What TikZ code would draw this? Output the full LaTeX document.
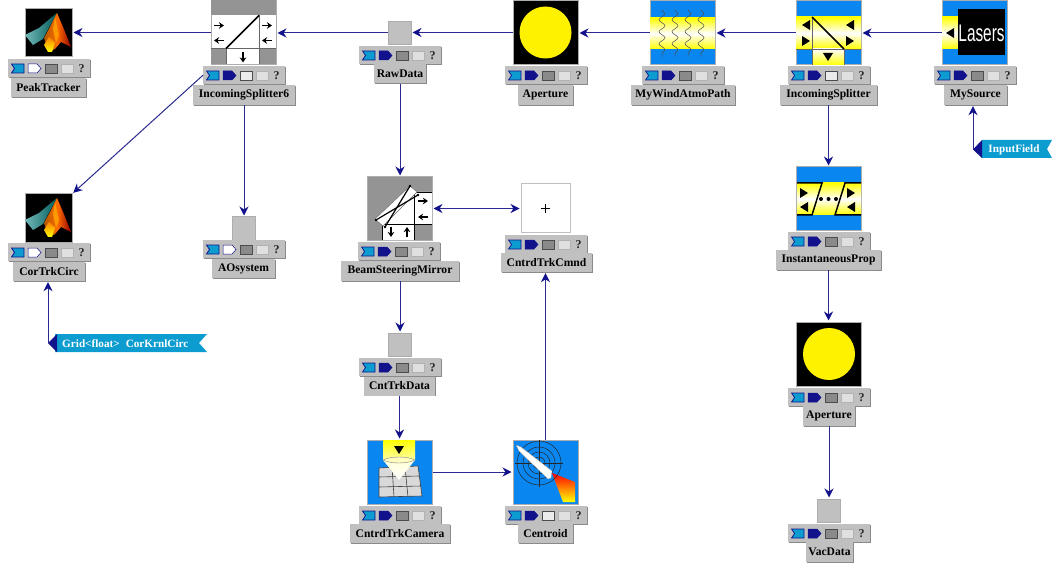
\documentclass[tikz,border=0pt]{standalone}
\usepackage{fontspec}
\setmainfont{Liberation Serif}
\newfontfamily\lblfont{Liberation Serif}
\newfontfamily\lasersfont{Liberation Sans}
\usetikzlibrary{arrows.meta,decorations.pathmorphing,calc}
\definecolor{navyc}{HTML}{12128C}
\definecolor{linec}{HTML}{2A2A90}
\definecolor{cyanc}{HTML}{0C9CD0}
\definecolor{bluec}{HTML}{0A86F0}
\definecolor{panel}{HTML}{C0C0C0}
\definecolor{edgec}{HTML}{8A8A8A}
\definecolor{hatchc}{HTML}{949494}
\tikzset{
  conn/.style={draw=linec,line width=1pt,-{Stealth[length=9pt,width=9pt,color=navyc]},shorten >=1pt},
  connboth/.style={draw=linec,line width=1pt,{Stealth[length=9pt,width=9pt,color=navyc]}-{Stealth[length=9pt,width=9pt,color=navyc]},shorten >=1pt,shorten <=1pt},
  lblbox/.style={fill=panel,preaction={fill=edgec,transform canvas={shift={(0.9pt,-0.9pt)}}},inner sep=0pt,minimum height=19pt,
    font=\lblfont\bfseries\fontsize{11.6}{13}\selectfont,text=black},
  barbox/.style={fill=panel,preaction={fill=edgec,transform canvas={shift={(0.9pt,-0.9pt)}}},inner sep=0pt,minimum width=82pt,minimum height=18pt},
  iconbox/.style={draw=edgec!70,line width=1pt,inner sep=0pt},
  plainicon/.style={iconbox,fill=panel,minimum width=23pt,minimum height=23pt},
  bigicon/.style={iconbox,minimum width=65pt,minimum height=64pt},
  mlicon/.style={iconbox,fill=black,minimum width=47pt,minimum height=48pt},
  flagtext/.style={text=white,inner sep=0pt,font=\lblfont\bfseries\fontsize{11.2}{12}\selectfont},
}
% toolbar: #1 name, #2 left x, #3 top y, #4 output fill, #5 square fill
\newcommand{\tbar}[5]{%
  \node[barbox,anchor=north west] (#1) at (#2,#3) {};
  \begin{scope}[shift={(#2,#3)}]
    \draw[navyc,fill=cyanc,line width=0.7pt] (3.5,5) -- (16,5) -- (16,14) -- (3.5,14) -- (6.5,9.5) -- cycle;
    \draw[navyc,fill=#4,line width=0.5pt] (20,5) -- (29,5) -- (33,9.5) -- (29,14) -- (20,14) -- cycle;
    \draw[black!70,fill=#5,line width=0.7pt] (37,5) rectangle (49,14);
    \draw[black!30,fill=white!88!black,line width=0.5pt] (53,5) rectangle (65,14);
    \node[inner sep=0pt,font=\bfseries\fontsize{12}{12}\selectfont,text=black!85] (#1q) at (73.5,10) {?};
  \end{scope}}
\newcommand{\trl}[2]{\fill[black] (#1-4,#2) -- ++(8,-5) -- ++(0,10) -- cycle;}
\newcommand{\trr}[2]{\fill[black] (#1+4,#2) -- ++(-8,-5) -- ++(0,10) -- cycle;}
\newcommand{\trd}[2]{\fill[black] (#1,#2+4) -- ++(-5,-8) -- ++(10,0) -- cycle;}
\newcommand{\arrR}[2]{\draw[black,line width=1.5pt,-{Stealth[length=5pt,width=6.5pt]}] (#1-5,#2) -- (#1+5,#2);}
\newcommand{\arrL}[2]{\draw[black,line width=1.5pt,-{Stealth[length=5pt,width=6.5pt]}] (#1+5,#2) -- (#1-5,#2);}
\newcommand{\arrD}[2]{\draw[black,line width=1.5pt,-{Stealth[length=5pt,width=6.5pt]}] (#1,#2-5) -- (#1,#2+5);}
\newcommand{\arrU}[2]{\draw[black,line width=1.5pt,-{Stealth[length=5pt,width=6.5pt]}] (#1,#2+5) -- (#1,#2-5);}
\newcommand{\matlabart}[2]{%
  \begin{scope}[shift={(#1,#2)}]
    \shade[left color=teal!55!white,right color=teal!70!black] (0,26) -- (14,19) -- (27,8) -- (32,4) -- (20,26) -- (18,30) -- (8,36) -- cycle;
    \shade[left color=orange!70!black,right color=red!55!black,middle color=orange!85!red]
      (19,29) -- (25,18) -- (32,4) -- (38,18) -- (46,38) -- (36,33) -- (30,40) -- (24,43) -- cycle;
    \shade[top color=orange,bottom color=yellow] (19,36) -- (24,28) -- (30,34) -- (27,43) -- (23,43) -- cycle;
    \fill[orange!80!yellow] (30,8) -- (34,26) -- (31,34) -- (28,20) -- cycle;
  \end{scope}}
\newcommand{\apertureart}[2]{%
  \begin{scope}[shift={(#1,#2)}]
    \fill[yellow] (32.5,32) circle (26);
  \end{scope}}
\begin{document}
\begin{tikzpicture}[x=1pt,y=-1pt]
\useasboundingbox (0,0) rectangle (1052,564);
\fill[white] (0,0) rectangle (1052,564);

% ---------- PeakTracker
\node[mlicon] (peakicon) at (48.5,33) {};
\matlabart{25}{9}
\tbar{peakbar}{8}{59}{white}{edgec}
\node[lblbox,minimum width=75pt] (peak) at (48.5,87.5) {PeakTracker};

% ---------- IncomingSplitter6
\node[bigicon,fill=white] (isixicon) at (243.5,32.5) {};
\begin{scope}[shift={(211,0.5)}]
  \fill[hatchc] (0,0) rectangle (65,15);
  \fill[hatchc] (0,48) rectangle (15,64);
  \fill[hatchc] (48,48) rectangle (65,64);
  \draw[black!60,line width=0.8pt] (0,48) -- (65,48) (15,48) -- (15,64) (48,48) -- (48,64) (48,15) -- (48,48);
  \draw[black,line width=1.6pt] (15,48) -- (48,15);
  \arrR{8}{25}\arrL{8}{40}\arrR{56}{25}\arrL{56}{40}\arrD{32}{57}
\end{scope}
\tbar{isixbar}{203}{66}{navyc}{white!92!black}
\node[lblbox,minimum width=102pt,minimum height=20pt] (isix) at (244,95) {IncomingSplitter6};

% ---------- RawData
\node[plainicon] (rawicon) at (399.5,33) {};
\tbar{rawbar}{359}{46}{navyc}{edgec}
\node[lblbox,minimum width=52pt] (raw) at (400,74) {RawData};

% ---------- Aperture (top)
\node[bigicon,fill=black] (apicon) at (545.5,32.5) {};
\apertureart{513}{0.5}
\tbar{apbar}{505}{66}{navyc}{edgec}
\node[lblbox,minimum width=55pt,minimum height=20pt] (ap) at (545.5,95) {Aperture};

% ---------- MyWindAtmoPath
\node[bigicon,fill=bluec] (windicon) at (682.5,33) {};
\begin{scope}[shift={(650,1)}]
  \shade[top color=yellow,bottom color=yellow,middle color=white] (0,17) rectangle (65,48);
  \foreach \xx in {12,25,38,51}
    \draw[black!70,line width=0.5pt,decorate,decoration={snake,segment length=12pt,amplitude=3pt}] (\xx,9) -- (\xx,56);
\end{scope}
\tbar{windbar}{642}{66}{navyc}{edgec}
\node[lblbox,minimum width=104pt,minimum height=20pt] (wind) at (683,95) {MyWindAtmoPath};

% ---------- IncomingSplitter
\node[bigicon,fill=bluec] (isicon) at (828.5,33) {};
\begin{scope}[shift={(796,1)}]
  \shade[top color=yellow,bottom color=yellow,middle color=white] (0,16) rectangle (65,48);
  \shade[top color=white,bottom color=yellow] (16,48) rectangle (48,64);
  \draw[black!60,line width=0.7pt] (16,16) -- (16,48) (0,48) -- (65,48) (16,48) -- (16,64) (48,48) -- (48,64);
  \draw[black,line width=1.6pt] (16,16) -- (48,48);
  \trl{10}{24}\trr{10}{40}\trl{54}{24}\trr{54}{40}\trd{32}{56}
\end{scope}
\tbar{isbar}{788}{66}{navyc}{white!92!black}
\node[lblbox,minimum width=97pt,minimum height=20pt] (is) at (828.5,95) {IncomingSplitter};

% ---------- MySource
\node[bigicon,fill=bluec] (srcicon) at (975,33) {};
\begin{scope}[shift={(942,1)}]
  \shade[top color=yellow,bottom color=yellow,middle color=white] (0,16) rectangle (16,48);
  \fill[black] (16,8) rectangle (63,54);
  \trl{8}{32}
  \node[text=white,inner sep=0pt,font=\lasersfont\fontsize{24}{24}\selectfont,xscale=0.64] (lasers) at (39.5,32) {Lasers};
\end{scope}
\tbar{srcbar}{934}{66}{navyc}{edgec}
\node[lblbox,minimum width=63pt,minimum height=20pt] (src) at (975.5,95) {MySource};

% ---------- InputField flag
\fill[cyanc] (982,140) -- (1052,140) -- (1047,149) -- (1052,158) -- (982,158) -- cycle;
\fill[navyc] (973,149.5) -- (982,140) -- (982,158) -- cycle;
\coordinate (intip) at (973,149.5);
\node[flagtext] (inflag) at (1014,149.5) {InputField};

% ---------- CorTrkCirc
\node[mlicon] (coricon) at (48.5,218) {};
\matlabart{25}{194}
\tbar{corbar}{8}{243}{white}{edgec}
\node[lblbox,minimum width=72pt] (cor) at (49,271.5) {CorTrkCirc};

% ---------- Grid flag
\fill[cyanc] (55,334) -- (207,334) -- (199,343) -- (207,352) -- (55,352) -- cycle;
\fill[navyc] (48,343) -- (57,334) -- (57,352) -- cycle;
\coordinate (gridtip) at (48,343);
\node[flagtext,anchor=west] (gridflag) at (62,343.5) {Grid<float>\hspace{6pt}CorKrnlCirc};

% ---------- AOsystem
\node[plainicon] (aoicon) at (243.5,228.5) {};
\tbar{aobar}{203}{240}{white}{edgec}
\node[lblbox,minimum width=63pt] (ao) at (243.5,268.5) {AOsystem};

% ---------- BeamSteeringMirror
\node[bigicon,fill=hatchc,minimum height=63pt] (bsmicon) at (399.5,208.5) {};
\begin{scope}[shift={(367,177)}]
  \fill[white] (15,47) -- (47,15) -- (65,15) -- (65,47) -- (47,47) -- (47,63) -- (15,63) -- cycle;
  \draw[black,line width=0.7pt] (47,15) -- (65,15) (47,15) -- (47,47) (15,47) -- (65,47) (15,47) -- (15,63) (47,47) -- (47,63);
  \fill[white,draw=black!60,line width=0.4pt] (8,42) -- (43,9) -- (50,15) -- (16,49) -- cycle;
  \draw[black,line width=1.2pt] (9,43) -- (51,18);
  \draw[black,line width=1.2pt] (18,50) -- (43,9);
  \fill[black] (9,43) circle (1.4) (43,9) circle (1.4) (18,50) circle (1.4) (51,18) circle (1.4);
  \arrR{56}{24}\arrL{56}{40}\arrD{24}{55}\arrU{40}{55}
\end{scope}
\tbar{bsmbar}{358}{242}{navyc}{edgec}
\node[lblbox,minimum width=118pt,minimum height=20pt] (bsm) at (400,271) {BeamSteeringMirror};

% ---------- CntrdTrkCmnd
\node[iconbox,fill=white,draw=black!25,minimum width=49pt,minimum height=49pt] (cmdicon) at (545.5,208.5) {};
\draw[black,line width=0.5pt] (541,208.5) -- (550,208.5) (545.5,204) -- (545.5,213);
\tbar{cmdbar}{505}{235}{navyc}{edgec}
\node[lblbox,minimum width=91pt] (cmd) at (546.5,262.5) {CntrdTrkCmnd};

% ---------- CntTrkData
\node[plainicon] (ctdicon) at (399.5,344.5) {};
\tbar{ctdbar}{359}{358}{navyc}{edgec}
\node[lblbox,minimum width=71pt] (ctd) at (399.5,386) {CntTrkData};

% ---------- CntrdTrkCamera
\node[bigicon,fill=bluec] (camicon) at (399.5,472) {};
\begin{scope}[shift={(367,440)}]
  \fill[white!85!black,draw=black!75,line width=0.6pt] (12,28) -- (51,26) -- (55,56) -- (12,57) -- cycle;
  \draw[black!75,line width=0.6pt] (12,37) -- (52,36) (12,47) -- (54,46) (25,27) -- (27,57) (38,27) -- (41,57);
  \shade[top color=yellow,bottom color=yellow!35!white] (16,0) -- (48,0) -- (48,20) -- (16,20) -- cycle;
  \shade[top color=white!85!yellow,bottom color=white] (16,20) -- (48,20) -- (32,40) -- cycle;
  \draw[black!50,line width=0.4pt,fill=yellow!25!white] (16,20) .. controls (24,16) and (40,16) .. (48,20) .. controls (40,24) and (24,24) .. (16,20);
  \trd{32}{10}
\end{scope}
\tbar{cambar}{359}{506}{navyc}{edgec}
\node[lblbox,minimum width=100pt] (cam) at (400,533.5) {CntrdTrkCamera};

% ---------- Centroid
\node[bigicon,fill=bluec] (cenicon) at (545.5,472) {};
\begin{scope}[shift={(513,440)}]
  \shade[left color=red,right color=yellow,shading angle=0] (39,33) -- (62,42) -- (62,62) -- (50,62) -- cycle;
  \draw[black!85,line width=0.5pt] (26,0) -- (26,47) (2,23) -- (50,23);
  \foreach \rr in {6,11,16,22}
    \draw[black!85,line width=0.5pt] (26,23) circle (\rr);
  \fill[white,draw=black!40,line width=0.3pt] (3,5) -- (8,7) -- (39,31) -- (38,38) -- (35,39) -- (6,11) -- cycle;
\end{scope}
\tbar{cenbar}{505}{506}{navyc}{white!92!black}
\node[lblbox,minimum width=55pt] (cen) at (545.5,533.5) {Centroid};

% ---------- InstantaneousProp
\node[bigicon,fill=bluec] (ipicon) at (829,199) {};
\begin{scope}[shift={(797,167)}]
  \shade[top color=yellow,bottom color=yellow,middle color=white] (0,16) rectangle (64,48);
  \draw[black,line width=1.5pt] (0,16) -- (25,16) -- (15,48) -- (0,48) (64,16) -- (48,16) -- (38,48) -- (64,48);
  \trr{7}{26}\trl{7}{40}\trr{54}{26}\trl{54}{40}
  \fill[black] (24,32) circle (2) (31.5,32) circle (2) (39,32) circle (2);
\end{scope}
\tbar{ipbar}{788}{232}{navyc}{edgec}
\node[lblbox,minimum width=105pt,minimum height=20pt] (ip) at (828.5,260) {InstantaneousProp};

% ---------- Aperture (lower)
\node[bigicon,fill=black] (aptwoicon) at (829,354) {};
\apertureart{796.5}{322}
\tbar{aptwobar}{788}{388}{navyc}{edgec}
\node[lblbox,minimum width=52pt,minimum height=20pt] (aptwo) at (829,416) {Aperture};

% ---------- VacData
\node[plainicon] (vacicon) at (829,510.5) {};
\tbar{vacbar}{788}{524}{navyc}{edgec}
\node[lblbox,minimum width=47pt,minimum height=20pt] (vac) at (829.5,552) {VacData};

% ---------- connectors
\draw[conn] (srcicon.west) -- (srcicon.west -| isicon.east);
\draw[conn] (isicon.west) -- (isicon.west -| windicon.east);
\draw[conn] (windicon.west) -- (windicon.west -| apicon.east);
\draw[conn] (apicon.west) -- (apicon.west -| rawicon.east);
\draw[conn] (rawicon.west) -- (rawicon.west -| isixicon.east);
\draw[conn] (isixicon.west) -- (isixicon.west -| peakicon.east);
\draw[conn] (isixbar.west) -- (coricon.north east);
\draw[conn] (isix.south) -- (isix.south |- aoicon.north);
\draw[conn] (raw.south) -- (raw.south |- bsmicon.north);
\draw[connboth] (bsmicon.east) -- (bsmicon.east -| cmdicon.west);
\draw[conn] (bsm.south) -- (bsm.south |- ctdicon.north);
\draw[conn] (ctd.south) -- (ctd.south |- camicon.north);
\draw[conn] (camicon.east) -- (camicon.east -| cenicon.west);
\draw[conn] (cenicon.north) -- (cenicon.north |- cmd.south);
\draw[conn] (is.south) -- (is.south |- ipicon.north);
\draw[conn] (ip.south) -- (ip.south |- aptwoicon.north);
\draw[conn] (aptwo.south) -- (aptwo.south |- vacicon.north);
\draw[conn] (intip) -- (intip |- src.south);
\draw[conn] (gridtip) -- (gridtip |- cor.south);
\end{tikzpicture}
\end{document}
